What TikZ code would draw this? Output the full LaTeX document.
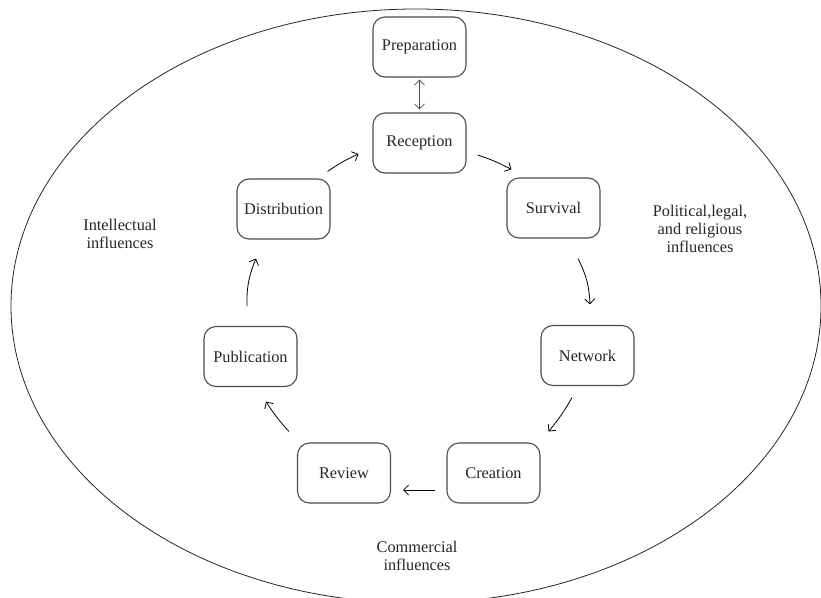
\documentclass[tikz,border=0pt]{standalone}
\usepackage{fontspec}
\setmainfont{Liberation Serif}
\usetikzlibrary{arrows.meta,calc}
\begin{document}
\begin{tikzpicture}[x=1pt,y=-1pt,
  stagebox/.style={draw=black!70,line width=1.1pt,rounded corners=12pt,minimum width=93pt,minimum height=60pt,inner sep=0pt,font=\fontsize{16.3}{18}\selectfont,text=black!85},
  lbl/.style={align=center,font=\fontsize{16.3}{18}\selectfont,text=black!85},
  arr/.style={line width=0.8pt,-{Straight Barb[length=5pt,width=10pt]}},
  darr/.style={line width=0.8pt,black!70,{Straight Barb[length=5pt,width=10pt]}-{Straight Barb[length=5pt,width=10pt]}}]
\useasboundingbox (0,0) rectangle (821,597);
\begin{scope}
\clip (0,0) rectangle (821,597);
\draw[line width=0.8pt,black!85] (416,306) ellipse [x radius=405pt, y radius=297pt];
\end{scope}
\node[stagebox] (prep) at (419.5,47) {Preparation};
\node[stagebox] (rec) at (419.5,143) {Reception};
\node[stagebox] (surv) at (553.5,208) {Survival};
\node[stagebox] (dist) at (283.5,209) {Distribution};
\node[stagebox] (pub) at (250.5,356.5) {Publication};
\node[stagebox] (net) at (587.5,355.5) {Network};
\node[stagebox] (rev) at (344,473) {Review};
\node[stagebox] (cre) at (493.5,473) {Creation};
\node[lbl] (intel) at (120,234) {Intellectual\\influences};
\node[lbl] (polit) at (700,229) {Political,legal,\\and religious\\influences};
\node[lbl] (comm) at (417,556) {Commercial\\influences};
\draw[darr] ($(prep.south)+(0,2)$) -- ($(rec.north)+(0,-3)$);
\draw[arr] ($(rec.east)+(11,12)$) to[bend left=5] ($(surv.north west)+(5,-8)$);
\draw[arr] ($(surv.south)+(24.5,20)$) to[bend left=12] ($(net.north)+(2.5,-20.5)$);
\draw[arr] ($(net.south)+(-15.5,11.5)$) to[bend left=5] ($(cre.north east)+(8,-11)$);
\draw[arr] ($(cre.west)+(-11,17)$) -- ($(rev.east)+(12,17)$);
\draw[arr] ($(rev.north west)+(-8,-11)$) to[bend left=5] ($(pub.south)+(15.5,14.5)$);
\draw[arr] ($(pub.north)+(-3.5,-19.5)$) to[bend left=12] ($(dist.south)+(-27.5,19)$);
\draw[arr] ($(dist.north east)+(-3,-7)$) to[bend left=5] ($(rec.west)+(-14,11)$);
\end{tikzpicture}
\end{document}
